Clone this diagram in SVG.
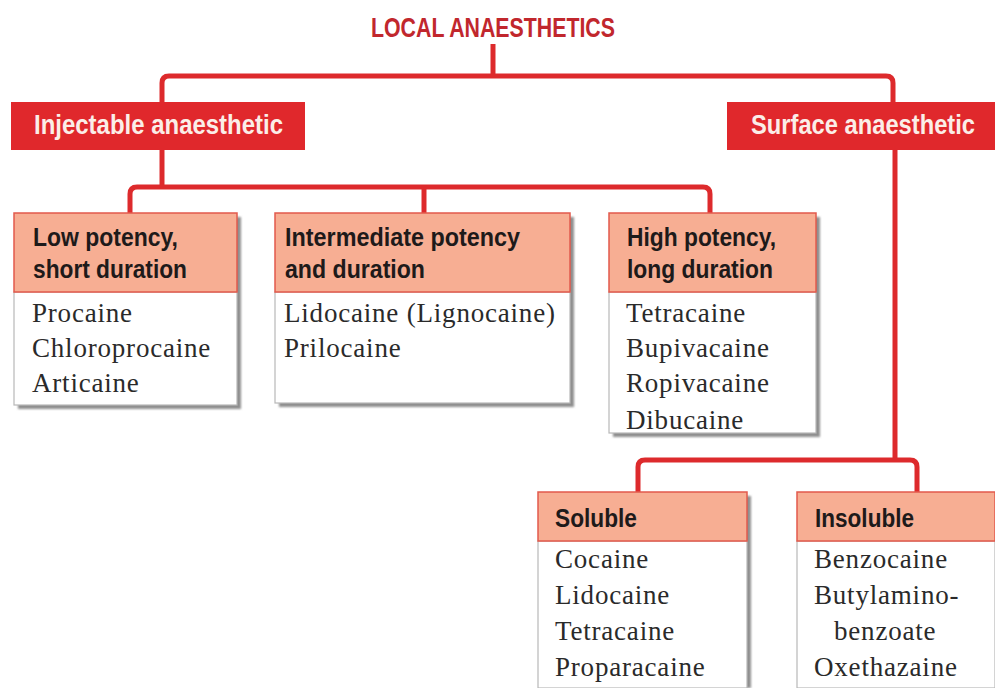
<svg xmlns="http://www.w3.org/2000/svg" width="995" height="688" viewBox="0 0 995 688">
<style>
.bg{fill:#ffffff}
.conn{fill:none;stroke:#dd2a2c;stroke-width:5;stroke-linejoin:round;stroke-linecap:butt}
.title{font-family:"Liberation Sans",Arial,sans-serif;font-weight:bold;font-size:28px;fill:#c1272d}
.cat{fill:#e0282c}
.catt{font-family:"Liberation Sans",Arial,sans-serif;font-weight:bold;font-size:24px;fill:#fbeee8}
.hd{fill:#f7ae93;stroke:#e25a4c;stroke-width:1.5}
.body{fill:#ffffff;stroke:#b8b8b8;stroke-width:1.2}
.sh{fill:#8f8f8f;filter:url(#blur)}
.ht{font-family:"Liberation Sans",Arial,sans-serif;font-weight:bold;font-size:26.5px;fill:#1e1a1a}
.it{font-family:"Liberation Serif","Times New Roman",serif;font-size:27px;letter-spacing:0.8px;fill:#2a2a2a}
</style>
<defs>
<filter id="blur" x="-10%" y="-10%" width="120%" height="120%"><feGaussianBlur stdDeviation="1.2"/></filter>
</defs>
<rect class="bg" x="0" y="0" width="995" height="688"/>

<g id="connectors">
<path class="conn" d="M493,44 V76"/>
<path class="conn" d="M162,102 V83 Q162,76 169,76 H886 Q893,76 893,83 V102"/>
<path class="conn" d="M162,150 V187"/>
<path class="conn" d="M130,213 V194 Q130,187 137,187 H703 Q710,187 710,194 V213"/>
<path class="conn" d="M424,187 V213"/>
<path class="conn" d="M895,150 V460"/>
<path class="conn" d="M638,492 V467 Q638,460 645,460 H910 Q917,460 917,467 V492"/>
</g>

<g id="title">
<text class="title" x="493" y="37" text-anchor="middle" textLength="244" lengthAdjust="spacingAndGlyphs">LOCAL ANAESTHETICS</text>
</g>

<g id="injectable">
<rect class="cat" x="11" y="102" width="294" height="48"/>
<text class="catt" transform="translate(34,134) scale(1,1.12)" x="0" y="0" textLength="249" lengthAdjust="spacingAndGlyphs">Injectable anaesthetic</text>
</g>

<g id="surface">
<rect class="cat" x="727" y="102" width="268" height="48"/>
<text class="catt" transform="translate(751,134) scale(1,1.12)" x="0" y="0" textLength="224" lengthAdjust="spacingAndGlyphs">Surface anaesthetic</text>
</g>

<g id="low">
<rect class="sh" x="18" y="217" width="223" height="192"/>
<rect class="body" x="14" y="292" width="223" height="113"/>
<rect class="hd" x="14" y="213" width="223" height="79"/>
<text class="ht" x="33" y="246" textLength="145" lengthAdjust="spacingAndGlyphs">Low potency,</text>
<text class="ht" x="33" y="278" textLength="154" lengthAdjust="spacingAndGlyphs">short duration</text>
<text class="it" x="32" y="322">Procaine</text>
<text class="it" x="32" y="357">Chloroprocaine</text>
<text class="it" x="32" y="392">Articaine</text>
</g>

<g id="intermediate">
<rect class="sh" x="279" y="217" width="295" height="190"/>
<rect class="body" x="275" y="292" width="295" height="111"/>
<rect class="hd" x="275" y="213" width="295" height="79"/>
<text class="ht" x="285" y="246" textLength="235" lengthAdjust="spacingAndGlyphs">Intermediate potency</text>
<text class="ht" x="285" y="278" textLength="140" lengthAdjust="spacingAndGlyphs">and duration</text>
<text class="it" x="284" y="322">Lidocaine (Lignocaine)</text>
<text class="it" x="284" y="357">Prilocaine</text>
</g>

<g id="high">
<rect class="sh" x="613" y="217" width="207" height="220"/>
<rect class="body" x="609" y="292" width="207" height="141"/>
<rect class="hd" x="609" y="213" width="207" height="79"/>
<text class="ht" x="627" y="246" textLength="149" lengthAdjust="spacingAndGlyphs">High potency,</text>
<text class="ht" x="627" y="278" textLength="146" lengthAdjust="spacingAndGlyphs">long duration</text>
<text class="it" x="626" y="322">Tetracaine</text>
<text class="it" x="626" y="357">Bupivacaine</text>
<text class="it" x="626" y="392">Ropivacaine</text>
<text class="it" x="626" y="429">Dibucaine</text>
</g>

<g id="soluble">
<rect class="sh" x="542" y="496" width="209" height="192"/>
<rect class="body" x="538" y="541" width="209" height="147"/>
<rect class="hd" x="538" y="492" width="209" height="49"/>
<text class="ht" x="555" y="527" textLength="82" lengthAdjust="spacingAndGlyphs">Soluble</text>
<text class="it" x="555" y="568">Cocaine</text>
<text class="it" x="555" y="604">Lidocaine</text>
<text class="it" x="555" y="640">Tetracaine</text>
<text class="it" x="555" y="676">Proparacaine</text>
</g>

<g id="insoluble">
<rect class="body" x="797" y="541" width="198" height="147"/>
<rect class="hd" x="797" y="492" width="198" height="49"/>
<text class="ht" x="815" y="527" textLength="99" lengthAdjust="spacingAndGlyphs">Insoluble</text>
<text class="it" x="814" y="568">Benzocaine</text>
<text class="it" x="814" y="604">Butylamino-</text>
<text class="it" x="834" y="640">benzoate</text>
<text class="it" x="814" y="676">Oxethazaine</text>
</g>
</svg>
